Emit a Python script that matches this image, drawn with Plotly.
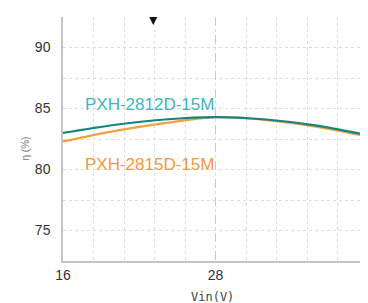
import plotly.graph_objects as go

vin = [16, 20, 24, 28, 32, 36, 40]
eff_2812 = [83.0, 83.65, 84.1, 84.3, 84.1, 83.6, 82.8]
eff_2815 = [82.3, 83.15, 83.8, 84.3, 84.05, 83.5, 82.7]
series_names = ["PXH-2812D-15M", "PXH-2815D-15M"]
x_ticks = [16, 28]
y_ticks = [75, 80, 85, 90]
marker_vin = 23.1
marker_eff = 91.85

x_range = [16, 40]
y_range = [72.5, 92.5]

# page body has an 8px margin; figure coordinates are offset by it
OFF = 8
FW, FH = 368 - OFF, 303 - OFF
L, T, W, H = 63 - OFF, 17 - OFF, 305, 244

fig = go.Figure()
fig.add_trace(go.Scatter(x=vin, y=eff_2815, mode="lines", line=dict(color="#f0a140", width=2.2, shape="spline", smoothing=0.8),
                         name=series_names[1], cliponaxis=True))
fig.add_trace(go.Scatter(x=vin, y=eff_2812, mode="lines", line=dict(color="#16847e", width=2.2, shape="spline", smoothing=0.8),
                         name=series_names[0], cliponaxis=True))

fig.add_annotation(x=17.6, y=85.3, xref="x", yref="y", text=series_names[0], showarrow=False,
                   xanchor="left", yanchor="middle", font=dict(family="Liberation Sans, Arial", size=17, color="#3fb6bf"))
fig.add_annotation(x=17.6, y=80.4, xref="x", yref="y", text=series_names[1], showarrow=False,
                   xanchor="left", yanchor="middle", font=dict(family="Liberation Sans, Arial", size=17, color="#f29a3a"))

# down arrow marker near top
fig.add_annotation(x=marker_vin, y=marker_eff, xref="x", yref="y", text="", showarrow=True,
                   ax=0, ay=-7, arrowhead=2, arrowsize=1, arrowwidth=1.6, arrowcolor="#111")

# tick label 40 at the (cut) right edge
fig.add_annotation(x=(40 - x_range[0]) / (x_range[1] - x_range[0]), y=0, xref="paper", yref="paper",
                   yshift=-8, text="40", showarrow=False, xanchor="center", yanchor="top",
                   font=dict(family="Liberation Sans, Arial", size=14, color="#333"))

# y axis title
fig.add_annotation(x=(17 - OFF - L) / W, y=(T + H - (148 - OFF)) / H, xref="paper", yref="paper", text="η (%)",
                   showarrow=False, textangle=-90, font=dict(family="Liberation Sans, Arial", size=10, color="#777"))

# x axis title
fig.add_annotation(x=(212 - OFF - L) / W, y=(T + H - (297 - OFF)) / H, xref="paper", yref="paper", text="Vin(V)",
                   showarrow=False, xanchor="center", yanchor="middle",
                   font=dict(family="DejaVu Sans Mono", size=12, color="#444"))

fig.update_layout(
    width=FW, height=FH,
    margin=dict(l=L, r=FW - L - W, t=T, b=FH - T - H),
    paper_bgcolor="white", plot_bgcolor="white",
    showlegend=False,
    xaxis=dict(range=x_range, tickvals=x_ticks, showgrid=True, gridcolor="#c8c8c8", griddash="dash", gridwidth=1,
               minor=dict(tick0=16, dtick=2.4, showgrid=True, gridcolor="#dcdcdc", griddash="dot", gridwidth=1),
               showline=True, linecolor="#c4c4c4", linewidth=1.5, ticks="", zeroline=False, automargin=False,
               tickfont=dict(family="Liberation Sans, Arial", size=14, color="#333")),
    yaxis=dict(range=y_range, tickvals=y_ticks, showgrid=True, gridcolor="#dcdcdc", griddash="dot", gridwidth=1,
               minor=dict(tick0=72.5, dtick=2.5, showgrid=True, gridcolor="#dcdcdc", griddash="dot", gridwidth=1),
               showline=True, linecolor="#c4c4c4", linewidth=1.5, ticks="", zeroline=False, automargin=False,
               tickfont=dict(family="Liberation Sans, Arial", size=14, color="#333"), ticklabelstandoff=8),
)

fig.write_html("out.html")
